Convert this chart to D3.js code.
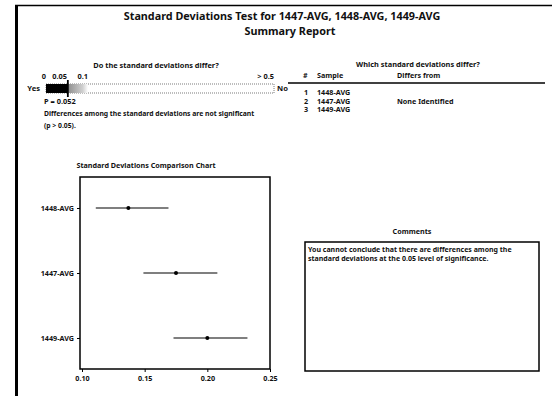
<!DOCTYPE html>
<html>
<head>
<meta charset="utf-8">
<script src="https://cdn.jsdelivr.net/npm/d3@7"></script>
<style>
  body { margin: 0; background: #fff; }
  text { font-family: "Noto Sans", sans-serif; font-weight: bold; fill: #111; }
</style>
</head>
<body>
<svg id="chart"></svg>
<script>
// Standard Deviations Test - Summary Report

const samples = ["1448-AVG", "1447-AVG", "1449-AVG"];
const sampleNumbers = ["1", "2", "3"];
const differsFrom = ["", "None Identified", ""];
const sdLower = [0.111, 0.149, 0.173];
const sdEstimate = [0.137, 0.175, 0.200];
const sdUpper = [0.169, 0.208, 0.232];
const xTicks = [0.10, 0.15, 0.20, 0.25];

const pValue = 0.052;
const alpha = 0.05;
const pTickValues = [0, 0.05, 0.1, 0.5];
const pTickLabels = ["0", "0.05", "0.1", "> 0.5"];

const width = 552;
const height = 396;

const svg = d3.select("#chart")
    .attr("width", width)
    .attr("height", height);

// page border (left + top)
svg.append("rect").attr("x", 15).attr("y", 5).attr("width", 3).attr("height", height - 5).attr("fill", "#000");
svg.append("line").attr("x1", 15).attr("x2", width).attr("y1", 5.5).attr("y2", 5.5)
    .attr("stroke", "#000").attr("stroke-width", 1.5);

// titles
svg.append("text").attr("x", 282).attr("y", 20).attr("text-anchor", "middle")
    .style("font-size", "10.8px")
    .text("Standard Deviations Test for 1447-AVG, 1448-AVG, 1449-AVG");
svg.append("text").attr("x", 290).attr("y", 35).attr("text-anchor", "middle")
    .style("font-size", "10.8px")
    .text("Summary Report");

// ---- p-value bar ----
const px = d3.scaleLinear().domain([0, 0.1, 0.5]).range([46, 88, 274]);
const barTop = 84, barH = 9;

svg.append("text").attr("x", 156).attr("y", 68).attr("text-anchor", "middle")
    .style("font-size", "7.4px").text("Do the standard deviations differ?");

svg.append("g").selectAll("text")
    .data(pTickValues)
    .join("text")
    .attr("x", d => px(d))
    .attr("y", 79)
    .attr("text-anchor", "end")
    .style("font-size", "7.4px")
    .text((d, i) => pTickLabels[i]);

const defs = svg.append("defs");
const grad = defs.append("linearGradient").attr("id", "fade");
grad.append("stop").attr("offset", "0%").attr("stop-color", "#8a8a8a");
grad.append("stop").attr("offset", "75%").attr("stop-color", "#d0d0d0");
grad.append("stop").attr("offset", "100%").attr("stop-color", "#fff");

svg.append("rect")
    .attr("x", px(0)).attr("y", barTop)
    .attr("width", px(0.5) - px(0)).attr("height", barH)
    .attr("fill", "none").attr("stroke", "#444").attr("stroke-width", 0.7)
    .attr("stroke-dasharray", "1,1");
svg.append("rect")
    .attr("x", px(alpha)).attr("y", barTop)
    .attr("width", px(0.1) - px(alpha)).attr("height", barH)
    .attr("fill", "url(#fade)");
svg.append("rect")
    .attr("x", px(0)).attr("y", barTop)
    .attr("width", px(alpha) - px(0)).attr("height", barH)
    .attr("fill", "#000");
svg.append("line")
    .attr("x1", px(pValue)).attr("x2", px(pValue))
    .attr("y1", barTop - 4).attr("y2", barTop + barH + 4)
    .attr("stroke", "#000").attr("stroke-width", 1.8);

svg.append("text").attr("x", 40).attr("y", barTop + 7).attr("text-anchor", "end")
    .style("font-size", "7.6px").text("Yes");
svg.append("text").attr("x", 277).attr("y", barTop + 7)
    .style("font-size", "7.6px").text("No");

svg.append("text").attr("x", 44).attr("y", 104).style("font-size", "7.4px")
    .text("P = " + pValue.toFixed(3));
svg.append("text").attr("x", 44).attr("y", 116).style("font-size", "6.8px")
    .text("Differences among the standard deviations are not significant");
svg.append("text").attr("x", 44).attr("y", 128).style("font-size", "6.8px")
    .text("(p > 0.05).");

// ---- which differ table ----
svg.append("text").attr("x", 418).attr("y", 67).attr("text-anchor", "middle")
    .style("font-size", "7.4px").text("Which standard deviations differ?");
svg.append("text").attr("x", 303).attr("y", 78).style("font-size", "7.2px").text("#");
svg.append("text").attr("x", 317).attr("y", 78).style("font-size", "7.2px").text("Sample");
svg.append("text").attr("x", 397).attr("y", 78).style("font-size", "7.2px").text("Differs from");
svg.append("line").attr("x1", 288).attr("x2", 545).attr("y1", 83).attr("y2", 83)
    .attr("stroke", "#000").attr("stroke-width", 1.5);

const rowY = d3.scalePoint().domain(samples).range([95, 112]);
const rows = svg.append("g").selectAll("g")
    .data(samples)
    .join("g")
    .attr("transform", d => `translate(0,${rowY(d)})`);
rows.append("text").attr("x", 306).attr("text-anchor", "middle").style("font-size", "7.2px")
    .text((d, i) => sampleNumbers[i]);
rows.append("text").attr("x", 317).style("font-size", "7.2px").text(d => d);
rows.append("text").attr("x", 397).style("font-size", "7.2px").text((d, i) => differsFrom[i]);

// ---- comparison chart ----
const frame = { left: 80, right: 270, top: 177, bottom: 369 };
const x = d3.scaleLinear().domain([0.10, 0.25]).range([82, 270]);
const y = d3.scalePoint().domain(samples).range([208, 338]);

svg.append("text").attr("x", 146).attr("y", 168).attr("text-anchor", "middle")
    .style("font-size", "7.2px").text("Standard Deviations Comparison Chart");

svg.append("rect")
    .attr("x", frame.left).attr("y", frame.top)
    .attr("width", frame.right - frame.left).attr("height", frame.bottom - frame.top)
    .attr("fill", "none").attr("stroke", "#000").attr("stroke-width", 1.5);

const xAxis = svg.append("g")
    .attr("transform", `translate(0,${frame.bottom})`)
    .call(d3.axisBottom(x).tickValues(xTicks).tickFormat(d3.format(".2f")).tickSize(3).tickSizeOuter(0));
const yAxis = svg.append("g")
    .attr("transform", `translate(${frame.left},0)`)
    .call(d3.axisLeft(y).tickSize(3).tickSizeOuter(0));
[xAxis, yAxis].forEach(a => {
    a.select(".domain").remove();
    a.selectAll("line").attr("stroke", "#000");
    a.selectAll("text").style("font-size", "7.2px").style("font-family", "Noto Sans").style("font-weight", "bold");
});
xAxis.selectAll("text").attr("dy", "0.9em");

const ci = svg.append("g").selectAll("g")
    .data(samples)
    .join("g");
ci.append("line")
    .attr("x1", (d, i) => x(sdLower[i]))
    .attr("x2", (d, i) => x(sdUpper[i]))
    .attr("y1", d => y(d)).attr("y2", d => y(d))
    .attr("stroke", "#000").attr("stroke-width", 1.1);
ci.append("circle")
    .attr("cx", (d, i) => x(sdEstimate[i]))
    .attr("cy", d => y(d))
    .attr("r", 2)
    .attr("fill", "#000");

// ---- comments ----
svg.append("text").attr("x", 412).attr("y", 234).attr("text-anchor", "middle")
    .style("font-size", "7.2px").text("Comments");
svg.append("rect")
    .attr("x", 305).attr("y", 242).attr("width", 234).attr("height", 129)
    .attr("fill", "none").attr("stroke", "#000").attr("stroke-width", 1.5);
svg.append("text").attr("x", 308).attr("y", 252).style("font-size", "7px")
    .text("You cannot conclude that there are differences among the");
svg.append("text").attr("x", 308).attr("y", 261).style("font-size", "7px")
    .text("standard deviations at the 0.05 level of significance.");
</script>
</body>
</html>
